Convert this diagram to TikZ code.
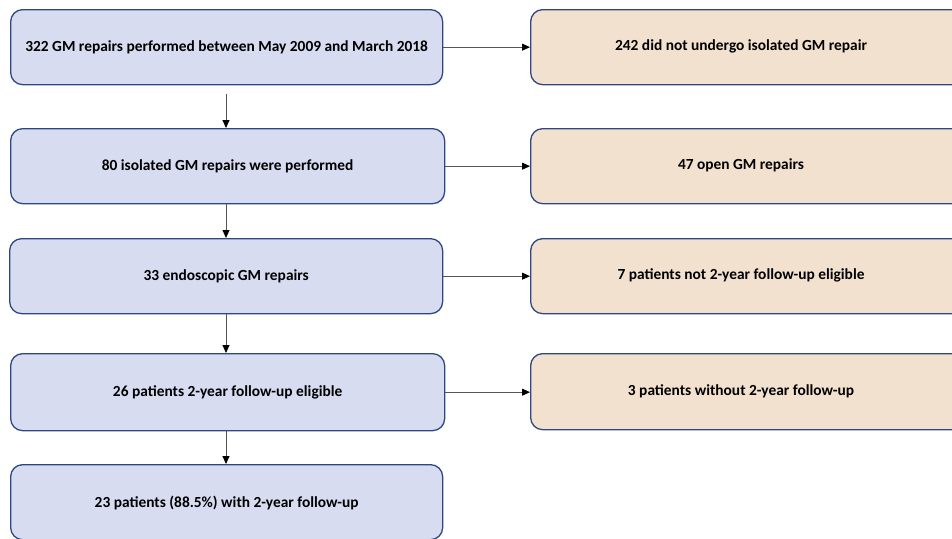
\documentclass[tikz,border=0pt]{standalone}
\usepackage{fontspec}
\setmainfont{Carlito}
\usetikzlibrary{arrows.meta}
\definecolor{leftfill}{HTML}{D7DCF0}
\definecolor{rightfill}{HTML}{F2E1CF}
\definecolor{boxline}{HTML}{2E4682}
\definecolor{arrline}{HTML}{555555}
\begin{document}
\begin{tikzpicture}[x=1pt,y=1pt,
  leftbox/.style={draw=boxline, line width=1.3pt, fill=leftfill, rounded corners=12pt, minimum height=75pt, inner sep=0pt, anchor=north west},
  rightbox/.style={draw=boxline, line width=1.3pt, fill=rightfill, rounded corners=12pt, minimum height=75pt, minimum width=440pt, inner sep=0pt, anchor=north west},
  lbl/.style={font=\fontsize{15.4}{18}\selectfont\bfseries, inner sep=0pt},
  arr/.style={draw=arrline, line width=0.9pt, -{Triangle[length=8pt,width=7pt,color=black]}}
]
\useasboundingbox (0,0) rectangle (952,-538);
\begin{scope}
\clip (0,0) rectangle (952,-538);
\node[leftbox, minimum width=432pt] (l1) at (10,-9) {};
\node[lbl] (t1) at (l1.center) {322 GM repairs performed between May 2009 and March 2018};
\node[leftbox, minimum width=434pt] (l2) at (10,-128) {};
\node[lbl] (t2) at (l2.center) {80 isolated GM repairs were performed};
\node[leftbox, minimum width=433pt] (l3) at (9,-238) {};
\node[lbl] (t3) at (l3.center) {33 endoscopic GM repairs};
\node[leftbox, minimum width=434pt, minimum height=77pt] (l4) at (10,-353) {};
\node[lbl] (t4) at (l4.center) {26 patients 2-year follow-up eligible};
\node[leftbox, minimum width=432pt, minimum height=75pt] (l5) at (10,-464) {};
\node[lbl] (t5) at ([yshift=-1pt]l5.center) {23 patients (88.5\%) with 2-year follow-up};

\node[rightbox] (r1) at (530,-9) {};
\node[lbl] (u1) at (741,-46.5) {242 did not undergo isolated GM repair};
\node[rightbox] (r2) at (530,-128) {};
\node[lbl] (u2) at (741,-165.5) {47 open GM repairs};
\node[rightbox] (r3) at (530,-238) {};
\node[lbl] (u3) at (741,-275.5) {7 patients not 2-year follow-up eligible};
\node[rightbox, minimum height=76pt] (r4) at (530,-353) {};
\node[lbl] (u4) at (741,-391) {3 patients without 2-year follow-up};
\end{scope}

\draw[arr, shorten <=9pt] (l1.south -| 226,0) -- (l2.north -| 226,0);
\draw[arr] (l2.south -| 226,0) -- (l3.north -| 226,0);
\draw[arr] (l3.south -| 226,0) -- (l4.north -| 226,0);
\draw[arr] (l4.south -| 226,0) -- (l5.north -| 226,0);

\draw[arr] (l1.east) -- (l1.east -| r1.west);
\draw[arr] (l2.east) -- (l2.east -| r2.west);
\draw[arr] (l3.east) -- (l3.east -| r3.west);
\draw[arr] (l4.east) -- (l4.east -| r4.west);
\end{tikzpicture}
\end{document}
